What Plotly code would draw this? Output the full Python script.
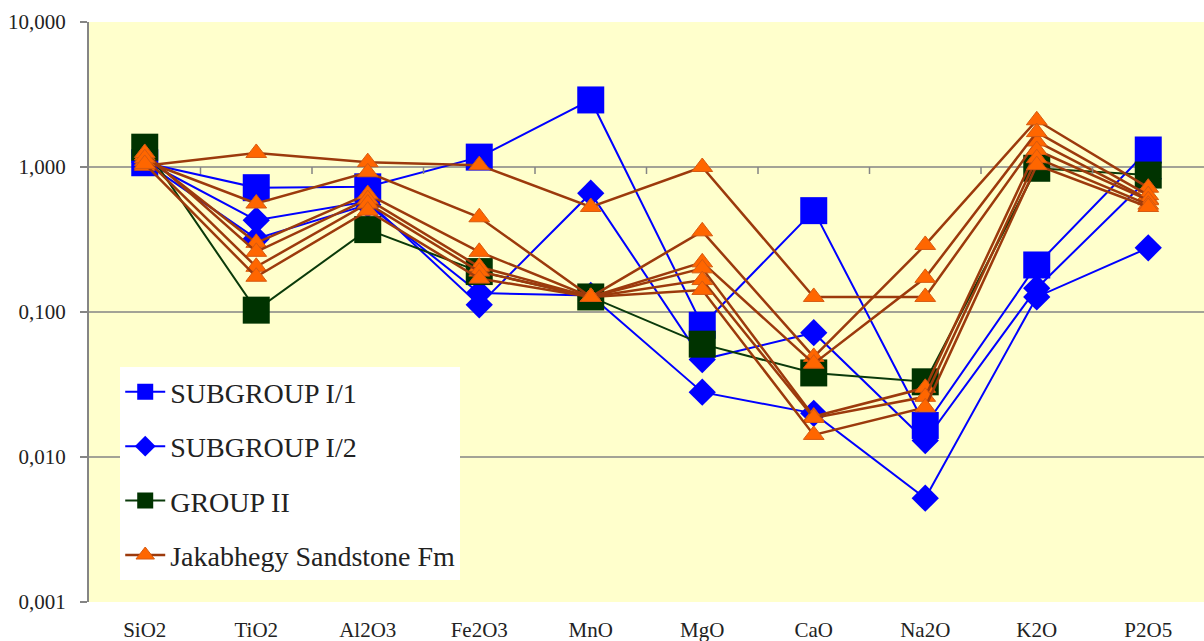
import plotly.graph_objects as go

categories = ["SiO2", "TiO2", "Al2O3", "Fe2O3", "MnO", "MgO", "CaO", "Na2O", "K2O", "P2O5"]

# SUBGROUP I/1 (one sample)
subgroup_i1 = [
    [1.07, 0.72, 0.73, 1.17, 2.90, 0.081, 0.50, 0.0165, 0.211, 1.31],
]
# SUBGROUP I/2 (two samples)
subgroup_i2 = [
    [1.10, 0.43, 0.58, 0.112, 0.66, 0.047, 0.072, 0.013, 0.146, 0.83],
    [1.08, 0.32, 0.55, 0.135, 0.13, 0.028, 0.020, 0.0052, 0.127, 0.277],
]
# GROUP II (one sample)
group_ii = [
    [1.37, 0.103, 0.37, 0.19, 0.127, 0.060, 0.038, 0.033, 0.98, 0.88],
]
# Jakabhegy Sandstone Fm (six samples)
jakabhegy = [
    [1.02, 1.25, 1.08, 1.03, 0.53, 1.00, 0.127, 0.127, 1.50, 0.60],
    [1.10, 0.56, 0.92, 0.45, 0.127, 0.36, 0.049, 0.29, 2.10, 0.72],
    [1.20, 0.30, 0.65, 0.26, 0.127, 0.22, 0.044, 0.172, 1.74, 0.64],
    [1.25, 0.26, 0.60, 0.205, 0.127, 0.20, 0.019, 0.030, 1.31, 0.59],
    [1.15, 0.205, 0.56, 0.19, 0.127, 0.166, 0.0186, 0.026, 1.15, 0.55],
    [1.05, 0.175, 0.50, 0.17, 0.127, 0.142, 0.0142, 0.022, 1.03, 0.53],
]

y_tickvals = [0.001, 0.01, 0.1, 1, 10]
y_ticktext = ["0,001", "0,010", "0,100", "1,000", "10,000"]

series = [
    ("SUBGROUP I/1", subgroup_i1, dict(color="#0000FF", width=2),
     dict(symbol="square", size=27, color="#0000FF", line=dict(width=0))),
    ("SUBGROUP I/2", subgroup_i2, dict(color="#0000FF", width=2),
     dict(symbol="diamond", size=21, color="#0000FF", line=dict(width=0))),
    ("GROUP II", group_ii, dict(color="#0A3A0A", width=2),
     dict(symbol="square", size=27, color="#003300", line=dict(width=0))),
    ("Jakabhegy Sandstone Fm", jakabhegy, dict(color="#9C3A0C", width=2.5),
     dict(symbol="triangle-up", size=18, color="#FF6600", line=dict(width=1, color="#D65A10"))),
]

fig = go.Figure()
for name, samples, line, marker in series:
    for i, vals in enumerate(samples):
        fig.add_trace(go.Scatter(
            x=categories, y=vals, mode="lines+markers", name=name,
            legendgroup=name, showlegend=(i == 0),
            line=line, marker=marker,
        ))

font_family = "Liberation Serif, Times New Roman, serif"
shapes = []
# horizontal grid lines at 0.01, 0.1, 1 (domain positions of the log range)
for frac in [0.25, 0.5, 0.75]:
    shapes.append(dict(type="line", xref="x domain", yref="y domain", x0=0, x1=1,
                       y0=frac, y1=frac, line=dict(color="#858585", width=1.5), layer="below"))
# category-separator ticks on the 1,000 line
for k in range(len(categories) - 1):
    shapes.append(dict(type="line", xref="x", yref="y domain", x0=k + 0.5, x1=k + 0.5,
                       y0=0.75, y1=0.75 - 7 / 580, line=dict(color="#858585", width=1.5)))

fig.update_layout(
    width=1204, height=641,
    margin=dict(l=89, r=0, t=22, b=39),
    paper_bgcolor="white",
    plot_bgcolor="#FFFFCC",
    font=dict(family=font_family, color="#222222"),
    shapes=shapes,
    legend=dict(
        x=0.028, y=0.405, xanchor="left", yanchor="top",
        bgcolor="white", borderwidth=0,
        font=dict(family=font_family, size=28, color="#222222"),
        tracegroupgap=15, itemwidth=40,
    ),
    xaxis=dict(
        type="category", range=[-0.5, 9.5], showgrid=False, showline=False,
        ticks="", tickfont=dict(size=21, family=font_family, color="#222222"),
        ticklabelstandoff=13, zeroline=False,
    ),
    yaxis=dict(
        type="log", range=[-3, 1], tickvals=y_tickvals, ticktext=y_ticktext,
        showgrid=False, showline=True, linecolor="#858585", linewidth=2,
        ticks="outside", ticklen=7, tickwidth=2, tickcolor="#858585",
        tickfont=dict(size=21, family=font_family, color="#222222"),
        ticklabelstandoff=10, zeroline=False,
    ),
)

fig.write_html("out.html")
